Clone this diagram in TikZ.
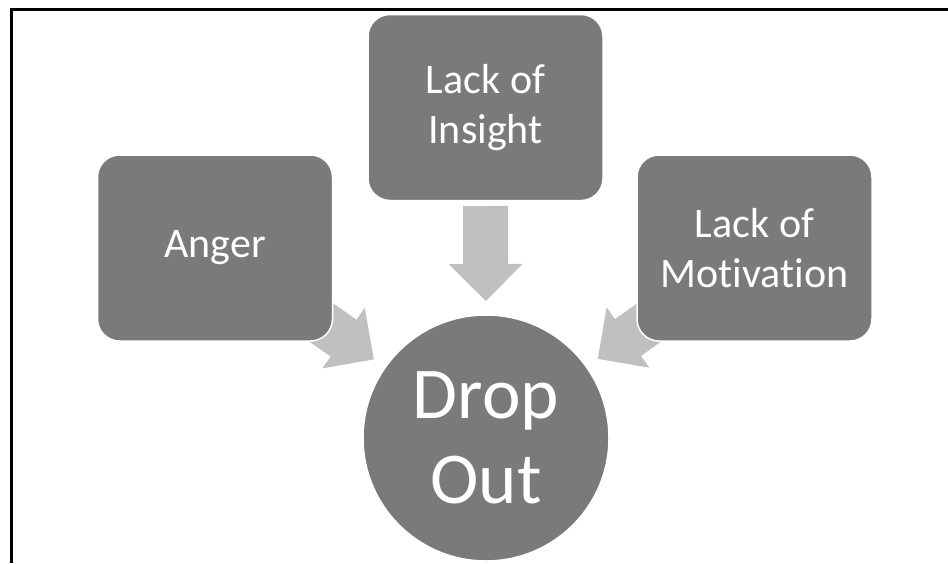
\documentclass[tikz,border=0pt]{standalone}
\usepackage{fontspec}
\setmainfont{Carlito}[Ligatures=CommonOff]
\usetikzlibrary{calc}

\definecolor{boxgray}{HTML}{7A7A7A}
\definecolor{arrowgray}{HTML}{C0C0C0}

\tikzset{
  causebox/.style={draw=white, line width=1.5pt, fill=boxgray, rounded corners=22pt,
    minimum width=235pt, minimum height=186pt, text=white, align=center,
    font=\fontsize{42}{50}\selectfont, inner sep=0pt},
  effectcircle/.style={circle, draw=white, line width=1.5pt, fill=boxgray,
    minimum size=246pt, text=white, align=center,
    font=\fontsize{73}{85}\selectfont, inner sep=0pt},
  blockarrow/.style={fill=arrowgray, draw=none},
}

% Broad block arrow from node #1 towards node #2, tip stopping short of #2
\newcommand{\blockarrow}[2]{%
  \coordinate (tip) at ($(#2.center)!137pt!(#1.center)$);
  \coordinate (hb) at ($(tip)!37pt!(#1.center)$);
  \coordinate (tail) at ($(tip)!95pt!(#1.center)$);
  \fill[blockarrow]
    ($(tail)!22.5pt!90:(tip)$) -- ($(hb)!22.5pt!90:(tip)$) --
    ($(hb)!37pt!90:(tip)$) -- (tip) -- ($(hb)!37pt!-90:(tip)$) --
    ($(hb)!22.5pt!-90:(tip)$) -- ($(tail)!22.5pt!-90:(tip)$) -- cycle;
}

\begin{document}
\begin{tikzpicture}[x=1pt, y=-1pt]
  \useasboundingbox (0,0) rectangle (948,563);

  % frame along the top and left edges
  \draw[line width=3pt] (948,9) -- (11,9) -- (11,563);

  % node positions (used by the arrows, drawn underneath)
  \coordinate (angerc) at (215,248);
  \coordinate (insightc) at (485.5,107.5);
  \coordinate (motivc) at (754.5,248);
  \coordinate (dropc) at (486,438);

  % arrows first so the shapes cover their tails
  \blockarrow{angerc}{dropc}
  \blockarrow{insightc}{dropc}
  \blockarrow{motivc}{dropc}

  \node[causebox] (anger) at (angerc) {Anger};
  \node[causebox] (insight) at (insightc) {Lack of\\Insight};
  \node[causebox] (motiv) at (motivc) {Lack of\\Motivation};
  \node[effectcircle] (drop) at (dropc) {Drop\\Out};
\end{tikzpicture}
\end{document}
